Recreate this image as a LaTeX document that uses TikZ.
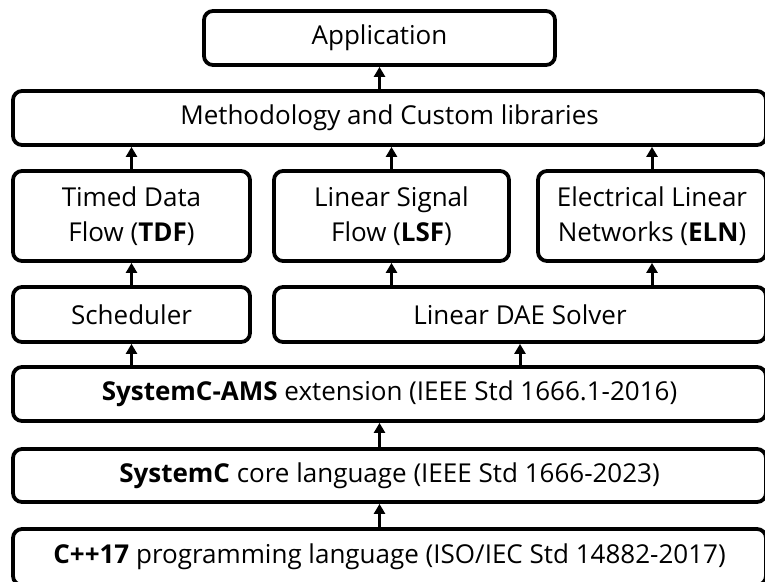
\documentclass[tikz,border=0pt]{standalone}
\usepackage{fontspec}
\setmainfont{Open Sans}
\usetikzlibrary{arrows.meta}

\begin{document}
\begin{tikzpicture}[x=1pt, y=-1pt,
		layer/.style={draw, line width=3.8pt, rounded corners=9pt, inner sep=0pt,
			align=center, font=\fontsize{26}{35}\selectfont},
		up/.style={line width=3pt, -{Triangle[width=11pt,length=10pt]}}]
			%%%%% START %%%%%
			\useasboundingbox (0, 0) rectangle (765, 581);
			\clip (0, 0) rectangle (765, 581);
			
			% top of the stack
			\node[layer, minimum width=351pt, minimum height=54pt] (app) at (379.5, 38) {Application};
			\node[layer, minimum width=753pt, minimum height=54pt] (meth) at (389.5, 118) {Methodology and Custom libraries};
			
			% models of computation
			\node[layer, minimum width=237pt, minimum height=90pt] (tdf) at (131.5, 216) {Timed Data\\Flow (\textbf{TDF})};
			\node[layer, minimum width=235pt, minimum height=90pt] (lsf) at (391.5, 216) {Linear Signal\\Flow (\textbf{LSF})};
			\node[layer, minimum width=228pt, minimum height=90pt] (eln) at (652, 216) {Electrical Linear\\Networks (\textbf{ELN})};
			
			% solvers
			\node[layer, minimum width=237pt, minimum height=55pt] (sched) at (131.5, 314.5) {Scheduler};
			\node[layer, minimum width=492pt, minimum height=55pt] (dae) at (520, 314.5) {Linear DAE Solver};
			
			% language layers
			\node[layer, minimum width=753pt, minimum height=54pt] (ams) at (389.5, 394) {\textbf{SystemC-AMS} extension (IEEE Std 1666.1-2016)};
			\node[layer, minimum width=753pt, minimum height=53pt] (sysc) at (389.5, 475.5) {\textbf{SystemC} core language (IEEE Std 1666-2023)};
			\node[layer, minimum width=753pt, minimum height=56pt] (cpp) at (389.5, 557) {\textbf{C++17} programming language (ISO/IEC Std 14882-2017)};
			
			% arrows
			\draw[up] (meth.north -| app) -- (app.south);
			\draw[up] (tdf.north) -- (meth.south -| tdf);
			\draw[up] (lsf.north) -- (meth.south -| lsf);
			\draw[up] (eln.north) -- (meth.south -| eln);
			\draw[up] (sched.north) -- (tdf.south);
			\draw[up] (dae.north -| lsf) -- (lsf.south);
			\draw[up] (dae.north -| eln) -- (eln.south);
			\draw[up] (ams.north -| sched) -- (sched.south);
			\draw[up] (ams.north -| dae) -- (dae.south);
			\draw[up] (sysc.north -| app) -- (ams.south -| app);
			\draw[up] (cpp.north -| app) -- (sysc.south -| app);
			
			%%%%% END %%%%%
\end{tikzpicture}
\end{document}
